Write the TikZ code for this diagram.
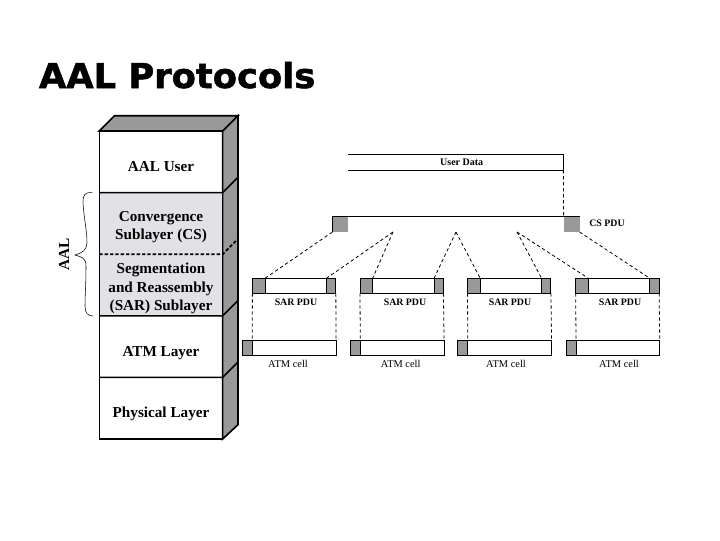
\documentclass[tikz,border=0pt]{standalone}
\usepackage{fontspec}
\setmainfont{Liberation Serif}
\newfontfamily\titlefont[BoldFont={DejaVu Sans Bold},BoldFeatures={FakeBold=1.5,FakeStretch=1.03}]{DejaVu Sans}
\usetikzlibrary{positioning,calc}
\definecolor{mygray}{RGB}{153,153,153}
\definecolor{mypale}{RGB}{226,226,230}
\pgfdeclarelayer{background}
\pgfsetlayers{background,main}

\begin{document}
\begin{tikzpicture}[x=0.75pt,y=-0.75pt,node distance=0pt,outer sep=0pt,inner sep=0pt,
	layerb/.style={
		minimum width=92.5pt,
		minimum height=46.2pt,
		align=center,
		font={\fontsize{11.4pt}{13.9pt}\selectfont\bfseries}},
	paleb/.style={layerb,fill=mypale},
	plainb/.style={layerb,text height=17pt,text depth=2.5pt},
	frame/.style={draw=black,line width=1.2pt},
	sidef/.style={fill=mygray,draw=black,line width=1.2pt,line join=miter},
	cshead/.style={fill=mygray,minimum width=12pt,minimum height=11.8pt},
	csbody/.style={minimum width=161.5pt,minimum height=11.8pt,font={\fontsize{7.5pt}{8pt}\selectfont\bfseries}},
	sarhead/.style={draw=black,line width=0.7pt,fill=mygray,minimum width=9.5pt,minimum height=11.3pt},
	sarbody/.style={draw=black,line width=0.7pt,minimum width=46.1pt,minimum height=11.3pt},
	sartail/.style={sarhead,minimum width=7pt},
	atmhead/.style={sarhead,minimum width=7.5pt},
	atmbody/.style={sarbody,minimum width=62.8pt},
	sarlabel/.style={font={\fontsize{7.4pt}{8pt}\selectfont\bfseries}},
	atmlabel/.style={font={\fontsize{7.8pt}{9pt}\selectfont}},
	thinline/.style={draw=black,line width=0.7pt},
	link/.style={draw=black,line width=0.6pt,dash pattern=on 2.5pt off 2pt},
	]
	\useasboundingbox (0,0) rectangle (720,540);
	\node[font={\titlefont\fontsize{25.7pt}{28pt}\selectfont\bfseries},anchor=base west] (TITLE) at (39,88) {AAL Protocols};

	% the layer stack
	\node[plainb] (USER) at (161,161.8) {AAL User};
	\node[paleb, text height=27pt, below=of USER] (CS) {Convergence\\Sublayer (CS)};
	\node[paleb, text height=41pt, below=of CS] (SAR) {Segmentation\\and Reassembly\\(SAR) Sublayer};
	\node[plainb, below=of SAR] (ATM) {ATM Layer};
	\node[plainb, below=of ATM] (PHY) {Physical Layer};
	\begin{pgfonlayer}{background}
		\draw[sidef] (USER.north west) -- ++(15.3,-15.3) -- ++(123.4,0) -- (USER.north east) -- cycle;
		\draw[sidef] (USER.north east) -- ++(15.3,-15.3) -- ($(PHY.south east)+(15.3,-14.3)$) -- (PHY.south east) -- cycle;
	\end{pgfonlayer}
	\draw[frame] (USER.north west) rectangle (PHY.south east);
	\draw[frame] (USER.south west) -- (USER.south east) -- ++(15.3,-15.3);
	\draw[frame] (SAR.south west) -- (SAR.south east) -- ++(15.3,-15.3);
	\draw[frame] (ATM.south west) -- (ATM.south east) -- ++(15.3,-15.3);
	\draw[frame,dash pattern=on 2.5pt off 1.5pt] (CS.south west) -- (CS.south east) -- ++(15.3,-15.3);

	% AAL brace
	\node[font={\fontsize{11.5pt}{12pt}\selectfont\bfseries},rotate=90] (AAL) at (64,254) {AAL};
	\draw[thinline,line width=0.4pt] (CS.north west) ++(-7,0) .. controls (85,192) and (83,195) .. (83,202)
		.. controls (84,220) and (87,230) .. (87,243) .. controls (87,250) and (82,253) .. (75,255)
		.. controls (82,257) and (86,258) .. (86,266) .. controls (86,285) and (85,295) .. (85,306)
		.. controls (85,313) and (88,316) .. (93,316);

	% user data and CS PDU
	\node[csbody] (UD) at (455.7,162.2) {\hspace{9pt}User Data};
	\draw[thinline] (UD.north west) -- (UD.north east) -- (UD.south east) -- (UD.south west);
	\node[cshead] (CSH) at (340.3,224.2) {};
	\node[csbody, right=of CSH] (CSB) {};
	\node[cshead, right=of CSB] (CST) {};
	\draw[thinline] (CSH.south west) -- (CSH.north west) -- (CST.north east);
	\draw[link] (UD.south east) -- (CSB.north east);
	\node[sarlabel] (CSL) at (607,223) {CS PDU};

	% SAR PDUs
	\node[sarhead] (S1H) at (258.7,285.8) {};
	\node[sarbody, right=of S1H] (S1B) {};
	\node[sartail, right=of S1B] (S1T) {};
	\node[sarhead] (S2H) at (366.3,285.8) {};
	\node[sarbody, right=of S2H] (S2B) {};
	\node[sartail, right=of S2B] (S2T) {};
	\node[sarhead] (S3H) at (473.8,285.8) {};
	\node[sarbody, right=of S3H] (S3B) {};
	\node[sartail, right=of S3B] (S3T) {};
	\node[sarhead] (S4H) at (582,285.8) {};
	\node[sarbody, right=of S4H] (S4B) {};
	\node[sartail, right=of S4B] (S4T) {};
	\node[sarlabel] (S1L) at (296,302) {SAR PDU};
	\node[sarlabel] (S2L) at (405,302) {SAR PDU};
	\node[sarlabel] (S3L) at (510,302) {SAR PDU};
	\node[sarlabel] (S4L) at (620,302) {SAR PDU};

	% ATM cells
	\node[atmhead] (A1H) at (247.3,347.8) {};
	\node[atmbody, right=of A1H] (A1B) {};
	\node[atmhead] (A2H) at (355.3,347.8) {};
	\node[atmbody, right=of A2H] (A2B) {};
	\node[atmhead] (A3H) at (462.8,347.8) {};
	\node[atmbody, right=of A3H] (A3B) {};
	\node[atmhead] (A4H) at (571,347.8) {};
	\node[atmbody, right=of A4H] (A4B) {};
	\node[atmlabel] (A1L) at (288,364) {ATM cell};
	\node[atmlabel] (A2L) at (400.7,364) {ATM cell};
	\node[atmlabel] (A3L) at (506,364) {ATM cell};
	\node[atmlabel] (A4L) at (619,364) {ATM cell};

	% where the CS PDU is cut
	\coordinate (K1) at (393,232);
	\coordinate (K2) at (456,232);
	\coordinate (K3) at (517,232);
	\draw[link] (CSH.south west) -- (S1H.north east);
	\draw[link] (K1) -- (S1T.north west);
	\draw[link] (K1) -- (S2H.north east);
	\draw[link] (K2) -- (S2T.north west);
	\draw[link] (K2) -- (S3H.north east);
	\draw[link] (K3) -- (S3T.north west);
	\draw[link] (K3) -- (S4H.north east);
	\draw[link] (CST.south east) -- (S4T.north west);

	\draw[link] (S1H.south west) -- (A1B.north west);
	\draw[link] (S1T.south east) -- (A1B.north east);
	\draw[link] (S2H.south west) -- (A2B.north west);
	\draw[link] (S2T.south east) -- (A2B.north east);
	\draw[link] (S3H.south west) -- (A3B.north west);
	\draw[link] (S3T.south east) -- (A3B.north east);
	\draw[link] (S4H.south west) -- (A4B.north west);
	\draw[link] (S4T.south east) -- (A4B.north east);
\end{tikzpicture}
\end{document}
